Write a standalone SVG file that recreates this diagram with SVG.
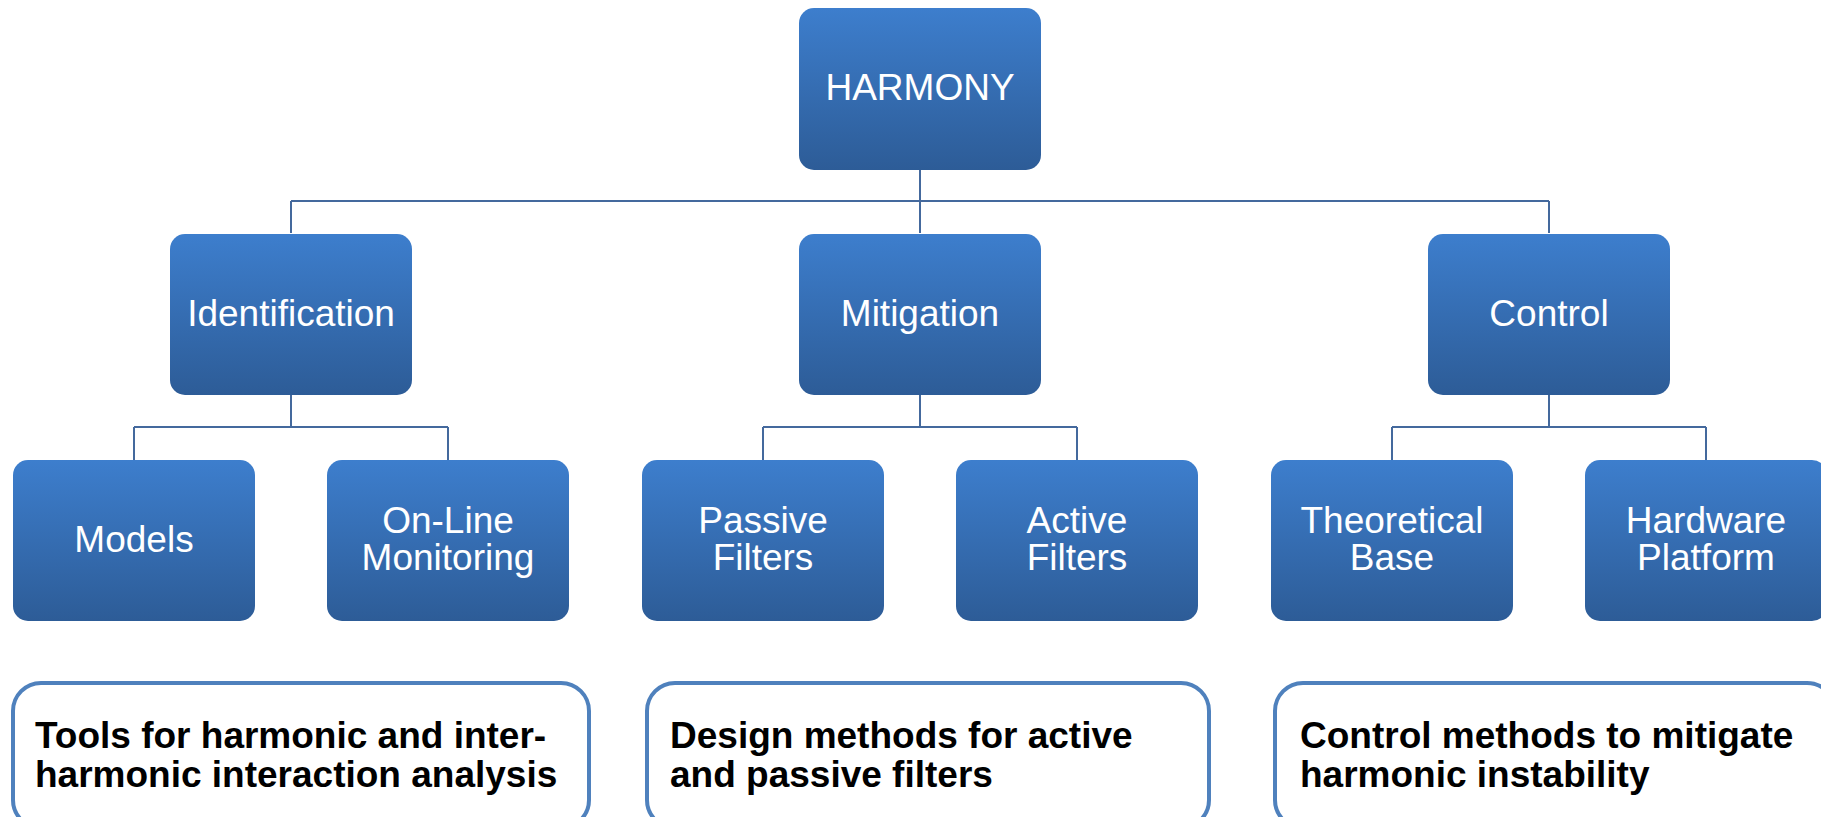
<svg xmlns="http://www.w3.org/2000/svg" width="1821" height="817" viewBox="0 0 1821 817">
<defs>
<linearGradient id="g" x1="0" y1="0" x2="0" y2="1">
<stop offset="0" stop-color="#3D7ECD"/>
<stop offset="1" stop-color="#2D5C97"/>
</linearGradient>
<style>
.n{fill:url(#g);}
.t{fill:#fff;font-family:"Liberation Sans",Arial,sans-serif;font-size:37px;text-anchor:middle;}
.c{stroke:#44699D;stroke-width:2;fill:none;}
.b{fill:#fff;stroke:#4F81BD;stroke-width:4;}
.bt{fill:#000;font-family:"Liberation Sans",Arial,sans-serif;font-size:37px;font-weight:bold;}
</style>
</defs>
<rect width="1821" height="817" fill="#fff"/>
<g id="connectors">
<path class="c" d="M920 170V201M291 201H1549M291 201V233M920 201V233M1549 201V233"/>
<path class="c" d="M291 395V427M134 427H448M134 427V460M448 427V460"/>
<path class="c" d="M920 395V427M763 427H1077M763 427V460M1077 427V460"/>
<path class="c" d="M1549 395V427M1392 427H1706M1392 427V460M1706 427V460"/>
</g>
<g id="harmony"><rect class="n" x="799" y="8" width="242" height="162" rx="15"/><text class="t" x="920" y="100">HARMONY</text></g>
<g id="identification"><rect class="n" x="170" y="234" width="242" height="161" rx="15"/><text class="t" x="291" y="326">Identification</text></g>
<g id="mitigation"><rect class="n" x="799" y="234" width="242" height="161" rx="15"/><text class="t" x="920" y="326">Mitigation</text></g>
<g id="control"><rect class="n" x="1428" y="234" width="242" height="161" rx="15"/><text class="t" x="1549" y="326">Control</text></g>
<g id="models"><rect class="n" x="13" y="460" width="242" height="161" rx="15"/><text class="t" x="134" y="552">Models</text></g>
<g id="online"><rect class="n" x="327" y="460" width="242" height="161" rx="15"/><text class="t" x="448" y="533">On-Line</text><text class="t" x="448" y="570">Monitoring</text></g>
<g id="passive"><rect class="n" x="642" y="460" width="242" height="161" rx="15"/><text class="t" x="763" y="533">Passive</text><text class="t" x="763" y="570">Filters</text></g>
<g id="active"><rect class="n" x="956" y="460" width="242" height="161" rx="15"/><text class="t" x="1077" y="533">Active</text><text class="t" x="1077" y="570">Filters</text></g>
<g id="theoretical"><rect class="n" x="1271" y="460" width="242" height="161" rx="15"/><text class="t" x="1392" y="533">Theoretical</text><text class="t" x="1392" y="570">Base</text></g>
<g id="hardware"><rect class="n" x="1585" y="460" width="242" height="161" rx="15"/><text class="t" x="1706" y="533">Hardware</text><text class="t" x="1706" y="570">Platform</text></g>
<g id="box1"><rect class="b" x="13" y="683" width="576" height="145" rx="28"/><text class="bt" x="35" y="748">Tools for harmonic and inter-</text><text class="bt" x="35" y="787">harmonic interaction analysis</text></g>
<g id="box2"><rect class="b" x="647" y="683" width="562" height="145" rx="28"/><text class="bt" x="670" y="748">Design methods for active</text><text class="bt" x="670" y="787">and passive filters</text></g>
<g id="box3"><rect class="b" x="1275" y="683" width="560" height="145" rx="28"/><text class="bt" x="1300" y="748">Control methods to mitigate</text><text class="bt" x="1300" y="787">harmonic instability</text></g>
</svg>
